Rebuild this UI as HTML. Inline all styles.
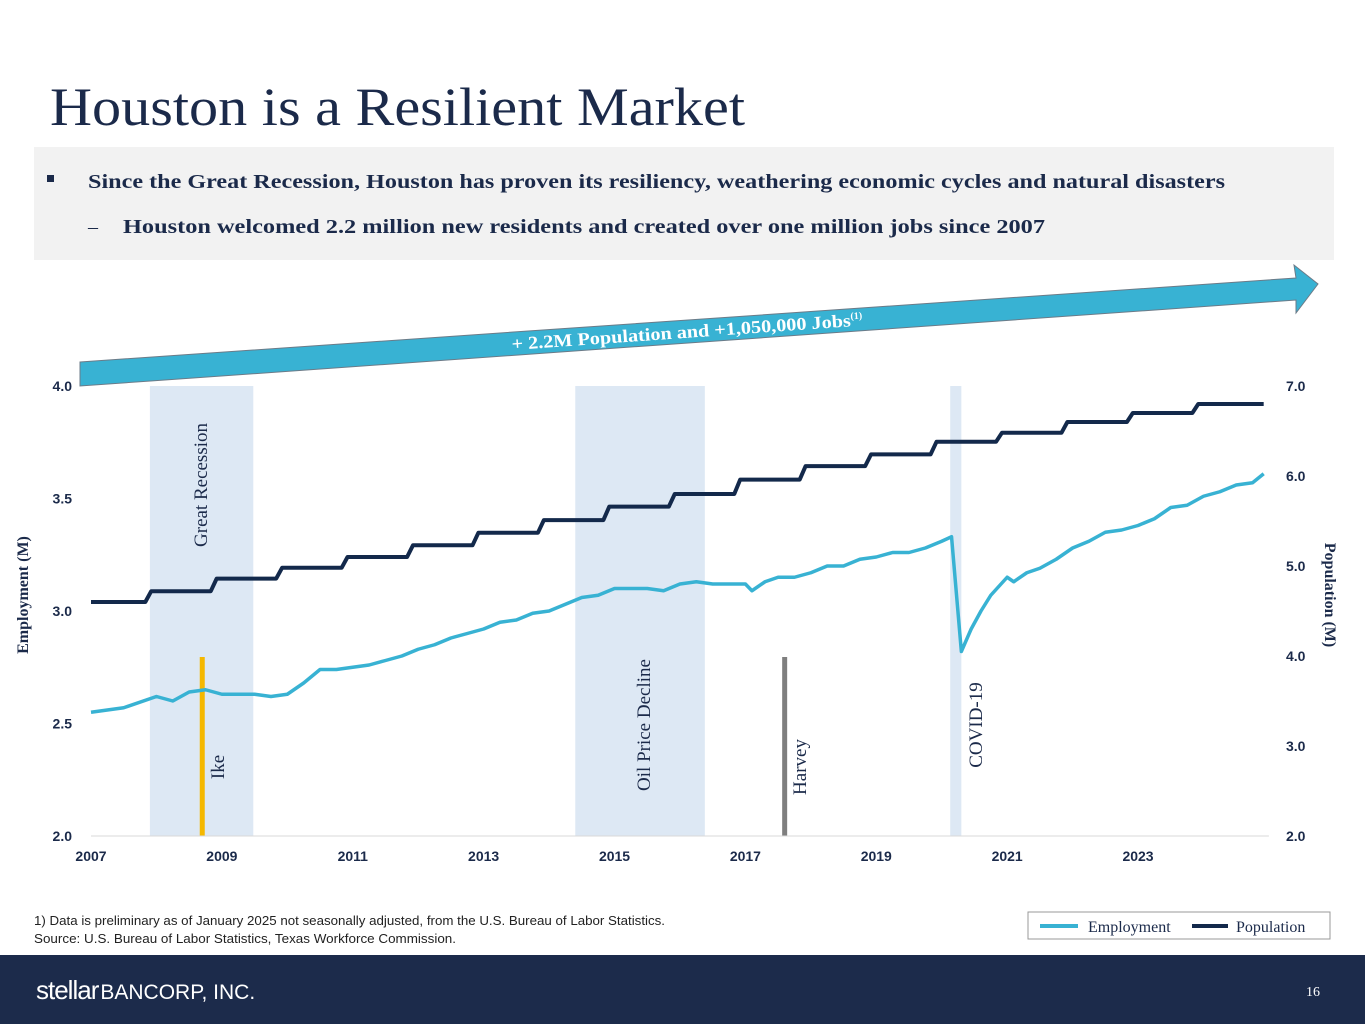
<!DOCTYPE html>
<html><head><meta charset="utf-8"><style>
html,body{margin:0;padding:0;background:#fff;}
svg{display:block;}
text{font-family:"Liberation Serif",serif;}
.sans{font-family:"Liberation Sans",sans-serif;}
</style></head><body>
<svg id="chart" width="1365" height="1024" viewBox="0 0 1365 1024" xmlns="http://www.w3.org/2000/svg">
<text x="50" y="125" font-size="54" fill="#1b2a4a" textLength="695" lengthAdjust="spacingAndGlyphs">Houston is a Resilient Market</text>
<rect x="34" y="147" width="1300" height="113" fill="#f2f2f2"/>
<rect x="47" y="175" width="7" height="7" fill="#1b2a4a"/>
<text x="88" y="188" font-size="20" font-weight="bold" fill="#1b2a4a" textLength="1137" lengthAdjust="spacingAndGlyphs">Since the Great Recession, Houston has proven its resiliency, weathering economic cycles and natural disasters</text>
<text x="88" y="233" font-size="20" fill="#1b2a4a">–</text>
<text x="123" y="233" font-size="20" font-weight="bold" fill="#1b2a4a" textLength="922" lengthAdjust="spacingAndGlyphs">Houston welcomed 2.2 million new residents and created over one million jobs since 2007</text>

<polygon points="80,362 1296,278 1294,265 1318,284 1296,313 1296,300 80,386" fill="#38b2d3" stroke="#6b7b88" stroke-width="1"/>
<text transform="translate(512,350) rotate(-4)" font-size="18" font-weight="bold" fill="#fff"><tspan textLength="340" lengthAdjust="spacingAndGlyphs">+ 2.2M Population and +1,050,000 Jobs</tspan><tspan font-size="10" dy="-7">(1)</tspan></text>

<g id="bands"></g>
<g id="axes"></g>
<g id="series"></g>

<text transform="translate(28,595) rotate(-90)" font-size="16" font-weight="bold" fill="#1b2a4a" text-anchor="middle">Employment (M)</text>
<text transform="translate(1325,595) rotate(90)" font-size="16" font-weight="bold" fill="#1b2a4a" text-anchor="middle">Population (M)</text>

<text class="sans" x="34" y="925" font-size="13" fill="#222" textLength="631" lengthAdjust="spacingAndGlyphs">1) Data is preliminary as of January 2025 not seasonally adjusted, from the U.S. Bureau of Labor Statistics.</text>
<text class="sans" x="34" y="943" font-size="13" fill="#222" textLength="422" lengthAdjust="spacingAndGlyphs">Source: U.S. Bureau of Labor Statistics, Texas Workforce Commission.</text>

<g>
<rect x="1028" y="912" width="302" height="27" fill="#fff" stroke="#999" stroke-width="1"/>
<line x1="1040" y1="926" x2="1078" y2="926" stroke="#38b2d3" stroke-width="4"/>
<text x="1088" y="932" font-size="16" fill="#1b2a4a">Employment</text>
<line x1="1192" y1="926" x2="1228" y2="926" stroke="#13294b" stroke-width="4"/>
<text x="1236" y="932" font-size="16" fill="#1b2a4a">Population</text>
</g>

<rect x="0" y="955" width="1365" height="69" fill="#1c2b4b"/>
<text class="sans" x="36" y="999" font-size="24" fill="#fff"><tspan font-size="26" letter-spacing="-1">stellar</tspan><tspan font-size="21" dx="2">BANCORP, INC.</tspan></text>
<text x="1306" y="996" font-size="14" fill="#fff">16</text>
</svg>
<script>
const empT=[2007.0,2007.5,2008.0,2008.25,2008.5,2008.75,2009.0,2009.25,2009.5,2009.75,2010.0,2010.25,2010.5,2010.75,2011.0,2011.25,2011.5,2011.75,2012.0,2012.25,2012.5,2012.75,2013.0,2013.25,2013.5,2013.75,2014.0,2014.25,2014.5,2014.75,2015.0,2015.25,2015.5,2015.75,2016.0,2016.25,2016.5,2016.75,2017.0,2017.1,2017.3,2017.5,2017.75,2018.0,2018.25,2018.5,2018.75,2019.0,2019.25,2019.5,2019.75,2020.0,2020.15,2020.3,2020.45,2020.6,2020.75,2021.0,2021.1,2021.3,2021.5,2021.75,2022.0,2022.25,2022.5,2022.75,2023.0,2023.25,2023.5,2023.75,2024.0,2024.25,2024.5,2024.75,2024.92];
const empV=[2.55,2.57,2.62,2.60,2.64,2.65,2.63,2.63,2.63,2.62,2.63,2.68,2.74,2.74,2.75,2.76,2.78,2.80,2.83,2.85,2.88,2.90,2.92,2.95,2.96,2.99,3.00,3.03,3.06,3.07,3.10,3.10,3.10,3.09,3.12,3.13,3.12,3.12,3.12,3.09,3.13,3.15,3.15,3.17,3.20,3.20,3.23,3.24,3.26,3.26,3.28,3.31,3.33,2.82,2.92,3.00,3.07,3.15,3.13,3.17,3.19,3.23,3.28,3.31,3.35,3.36,3.38,3.41,3.46,3.47,3.51,3.53,3.56,3.57,3.61];
const popYears=[2007,2008,2009,2010,2011,2012,2013,2014,2015,2016,2017,2018,2019,2020,2021,2022,2023,2024];
const popV=[4.60,4.72,4.86,4.98,5.10,5.23,5.37,5.51,5.66,5.80,5.96,6.11,6.24,6.38,6.48,6.60,6.70,6.80];
const leftTicks=[2.0,2.5,3.0,3.5,4.0];
const rightTicks=[2.0,3.0,4.0,5.0,6.0,7.0];
const xTicks=[2007,2009,2011,2013,2015,2017,2019,2021,2023];
const bandStart=[2007.9,2014.4,2020.13];
const bandEnd=[2009.48,2016.38,2020.3];
const bandLabels=["Great Recession","Oil Price Decline","COVID-19"];
const eventT=[2008.7,2017.6];
const eventLabels=["Ike","Harvey"];

const NS="http://www.w3.org/2000/svg";
const X=t=>91+(t-2007)*65.44;
const YL=v=>836-(v-2.0)*225;
const YR=v=>836-(v-2.0)*90;
function mk(tag,attrs,parent){const e=document.createElementNS(NS,tag);for(const k in attrs)e.setAttribute(k,attrs[k]);parent.appendChild(e);return e;}
const gB=document.getElementById('bands'),gA=document.getElementById('axes'),gS=document.getElementById('series');

const bandLabelPos=[[207,485],[650,725],[982,725]];
bandStart.forEach((s,i)=>{
  const r=mk('rect',{x:X(s),y:YL(4.0),width:X(bandEnd[i])-X(s),height:YL(2.0)-YL(4.0),fill:'#dde8f4'},gB);
  
  
  const t=mk('text',{transform:`translate(${bandLabelPos[i][0]},${bandLabelPos[i][1]}) rotate(-90)`,'font-size':19,fill:'#1b2a4a','text-anchor':'middle'},gB);
  t.textContent=bandLabels[i];
  
  
});
const evColors=['#f5b800','#7f7f7f'];
const evLabelPos=[[224,767],[806,767]];
eventT.forEach((t0,i)=>{
  const r=mk('rect',{x:X(t0)-2.5,y:657,width:5,height:YL(2.0)-657,fill:evColors[i]},gB);
  
  
  const t=mk('text',{transform:`translate(${evLabelPos[i][0]},${evLabelPos[i][1]}) rotate(-90)`,'font-size':19,fill:'#1b2a4a','text-anchor':'middle'},gB);
  t.textContent=eventLabels[i];
  
  
});

const ax=mk('line',{x1:X(2007),y1:YL(2.0),x2:X(2025),y2:YL(2.0),stroke:'#d9d9d9','stroke-width':1},gA);


leftTicks.forEach(v=>{
  const t=mk('text',{x:72,y:YL(v)+5,'font-size':14,'font-weight':'bold',fill:'#1b2a4a','text-anchor':'end','class':'sans'},gA);
  t.textContent=v.toFixed(1);
  
  
});
rightTicks.forEach(v=>{
  const t=mk('text',{x:1286,y:YR(v)+5,'font-size':14,'font-weight':'bold',fill:'#1b2a4a','class':'sans'},gA);
  t.textContent=v.toFixed(1);
  
  
});
xTicks.forEach(v=>{
  const t=mk('text',{x:X(v),y:861,'font-size':14,'font-weight':'bold',fill:'#1b2a4a','text-anchor':'middle','class':'sans'},gA);
  t.textContent=v;
  
  
});

let pp=[];
popYears.forEach((yr,i)=>{
  pp.push([X(yr),YR(popV[i])]);
  pp.push([X(yr+0.83),YR(popV[i])]);
  if(i<popYears.length-1) pp.push([X(yr+0.92),YR(popV[i+1])]);
  else pp[pp.length-1]=[X(yr+0.92),YR(popV[i])];
});
const pl=mk('polyline',{points:pp.map(p=>p.join(',')).join(' '),fill:'none',stroke:'#13294b','stroke-width':4,'stroke-linejoin':'round'},gS);


const el=mk('polyline',{points:empT.map((t,i)=>X(t)+','+YL(empV[i])).join(' '),fill:'none',stroke:'#38b2d3','stroke-width':3.5,'stroke-linejoin':'round'},gS);


</script>
</body></html>
